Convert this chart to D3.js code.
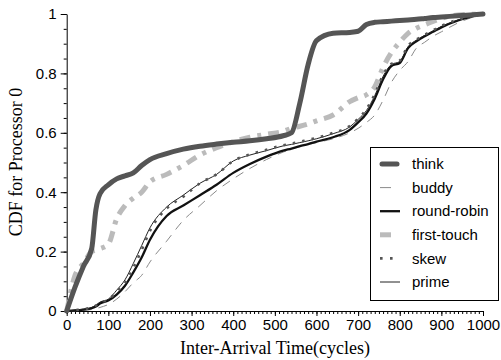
<!DOCTYPE html>
<html>
<head>
<meta charset="utf-8">
<script src="https://cdn.jsdelivr.net/npm/d3@7"></script>
<style>
  body { margin: 0; background: #fff; }
  svg { display: block; }
  .tick text { font-family: "Liberation Sans", Arial, sans-serif; font-size: 15px; fill: #000; }
  .title { font-family: "Liberation Serif", "Times New Roman", serif; font-size: 18px; fill: #000; }
</style>
</head>
<body>
<script>
// x positions (cycles) shared by every series
var xs = [0, 20, 40, 60, 70, 80, 100, 120, 140, 160, 180, 200, 240, 280, 320, 360, 400, 440, 480, 520, 540, 560, 580, 600, 640, 680, 700, 720, 740, 760, 780, 800, 820, 840, 860, 880, 900, 940, 1000];

var think      = [0, 0.08, 0.15, 0.21, 0.34, 0.395, 0.425, 0.445, 0.455, 0.465, 0.49, 0.51, 0.53, 0.545, 0.555, 0.562, 0.568, 0.573, 0.58, 0.59, 0.60, 0.70, 0.83, 0.91, 0.935, 0.938, 0.942, 0.965, 0.972, 0.974, 0.976, 0.978, 0.98, 0.982, 0.985, 0.988, 0.99, 0.994, 1.0];
var buddy      = [0, 0, 0.002, 0.005, 0.008, 0.012, 0.022, 0.04, 0.065, 0.095, 0.12, 0.165, 0.235, 0.305, 0.355, 0.405, 0.445, 0.48, 0.51, 0.535, 0.545, 0.553, 0.56, 0.567, 0.58, 0.6, 0.615, 0.635, 0.66, 0.71, 0.77, 0.81, 0.84, 0.885, 0.905, 0.925, 0.94, 0.97, 1.0];
var roundRobin = [0, 0.002, 0.005, 0.01, 0.015, 0.025, 0.035, 0.055, 0.085, 0.13, 0.18, 0.24, 0.32, 0.355, 0.39, 0.425, 0.465, 0.495, 0.52, 0.54, 0.547, 0.555, 0.562, 0.57, 0.585, 0.61, 0.635, 0.665, 0.715, 0.78, 0.825, 0.835, 0.885, 0.908, 0.925, 0.94, 0.955, 0.978, 1.0];
var firstTouch = [0, 0.12, 0.16, 0.2, 0.205, 0.21, 0.225, 0.31, 0.355, 0.38, 0.40, 0.435, 0.46, 0.49, 0.525, 0.55, 0.57, 0.585, 0.595, 0.605, 0.615, 0.622, 0.63, 0.64, 0.66, 0.705, 0.718, 0.728, 0.755, 0.82, 0.87, 0.905, 0.935, 0.952, 0.964, 0.975, 0.985, 0.997, 1.0];
var skew       = [0, 0.003, 0.006, 0.012, 0.018, 0.028, 0.038, 0.065, 0.095, 0.145, 0.205, 0.27, 0.345, 0.385, 0.43, 0.46, 0.505, 0.527, 0.543, 0.558, 0.563, 0.57, 0.576, 0.583, 0.6, 0.623, 0.648, 0.68, 0.73, 0.795, 0.832, 0.843, 0.893, 0.914, 0.93, 0.945, 0.96, 0.981, 1.0];
var prime      = [0, 0.003, 0.006, 0.012, 0.02, 0.03, 0.04, 0.07, 0.105, 0.16, 0.22, 0.28, 0.35, 0.39, 0.43, 0.46, 0.505, 0.525, 0.54, 0.556, 0.561, 0.567, 0.573, 0.58, 0.597, 0.62, 0.645, 0.675, 0.725, 0.79, 0.83, 0.84, 0.89, 0.912, 0.928, 0.943, 0.958, 0.98, 1.0];

var seriesNames = ["think", "buddy", "round-robin", "first-touch", "skew", "prime"];
var xTicks = [0, 100, 200, 300, 400, 500, 600, 700, 800, 900, 1000];
var yTicks = [0, 0.2, 0.4, 0.6, 0.8, 1];

var styles = {
  "think":       {color: "#555", width: 5,   dash: null,         cap: "round"},
  "buddy":       {color: "#8a8a8a", width: 1, dash: "9,7",       cap: "butt"},
  "round-robin": {color: "#111", width: 2.3, dash: null,         cap: "butt"},
  "first-touch": {color: "#bbb", width: 5,   dash: "11,7,4,7",   cap: "butt"},
  "skew":        {color: "#555", width: 2.6, dash: "2.6,7",      cap: "butt"},
  "prime":       {color: "#222", width: 1,   dash: null,         cap: "butt"}
};
var values = {
  "think": think, "buddy": buddy, "round-robin": roundRobin,
  "first-touch": firstTouch, "skew": skew, "prime": prime
};
var drawOrder = ["first-touch", "buddy", "round-robin", "prime", "skew", "think"];

var width = 501, height = 360;

var xScale = d3.scaleLinear().domain([0, 1000]).range([66.7, 483]);
var yScale = d3.scaleLinear().domain([0, 1]).range([311, 14]);

var svg = d3.select("body").append("svg")
    .attr("width", width)
    .attr("height", height);

// minor ticks
svg.append("g")
    .attr("transform", "translate(0," + yScale(0) + ")")
    .call(d3.axisBottom(xScale).tickValues(d3.range(0, 1001, 10)).tickSize(3).tickFormat(""))
    .call(function(g){ g.select(".domain").remove(); });
svg.append("g")
    .attr("transform", "translate(" + xScale(0) + ",0)")
    .call(d3.axisLeft(yScale).tickValues(d3.range(0, 1.001, 0.05)).tickSize(3).tickFormat(""))
    .call(function(g){ g.select(".domain").remove(); });

// major axes
svg.append("g")
    .attr("class", "x axis")
    .attr("transform", "translate(0," + yScale(0) + ")")
    .call(d3.axisBottom(xScale).tickValues(xTicks).tickSize(5).tickPadding(3).tickSizeOuter(0)
      .tickFormat(d3.format("d")));

svg.append("g")
    .attr("class", "y axis")
    .attr("transform", "translate(" + xScale(0) + ",0)")
    .call(d3.axisLeft(yScale).tickValues(yTicks).tickSize(6).tickPadding(4).tickSizeOuter(0)
      .tickFormat(function(d){ return (d === 0 || d === 1) ? d : d.toFixed(1); }));

svg.selectAll(".domain, .tick line").attr("stroke", "#000");

// curves
var line = d3.line()
    .x(function(d) { return xScale(d[0]); })
    .y(function(d) { return yScale(d[1]); })
    .curve(d3.curveMonotoneX);

drawOrder.forEach(function(name){
  var s = styles[name];
  var pts = xs.map(function(x, i){ return [x, values[name][i]]; });
  svg.append("path")
    .datum(pts)
    .attr("fill", "none")
    .attr("stroke", s.color)
    .attr("stroke-width", s.width)
    .attr("stroke-linecap", s.cap)
    .attr("stroke-linejoin", "round")
    .attr("stroke-dasharray", s.dash)
    .attr("d", line);
});

// legend
var legend = svg.append("g").attr("class", "legend");
legend.append("rect")
    .attr("x", 370.5).attr("y", 147.5)
    .attr("width", 128).attr("height", 153)
    .attr("fill", "#fff").attr("stroke", "#000").attr("stroke-width", 1);

var legendY = d3.scalePoint().domain(seriesNames).range([164, 282]);

seriesNames.forEach(function(name){
  var s = styles[name];
  var y = legendY(name);
  legend.append("line")
    .attr("x1", name === "think" ? 382 : 380).attr("x2", name === "think" ? 397 : 400)
    .attr("y1", y).attr("y2", y)
    .attr("stroke", s.color)
    .attr("stroke-width", s.width)
    .attr("stroke-linecap", s.cap)
    .attr("stroke-dasharray", name === "skew" ? "2.6,7.4" : (name === "buddy" ? "11,20" : (name === "first-touch" ? "11,20" : s.dash)));
  legend.append("text")
    .attr("x", 412).attr("y", y)
    .attr("dy", "0.35em")
    .style("font-family", "'Liberation Sans', Arial, sans-serif")
    .style("font-size", "15px")
    .text(name);
});

// titles
svg.append("text")
    .attr("class", "title")
    .attr("text-anchor", "middle")
    .attr("transform", "translate(22," + 162 + ") rotate(-90)")
    .text("CDF for Processor 0");

svg.append("text")
    .attr("class", "title")
    .attr("text-anchor", "middle")
    .attr("x", 275).attr("y", 354)
    .text("Inter-Arrival Time(cycles)");
</script>
</body>
</html>
